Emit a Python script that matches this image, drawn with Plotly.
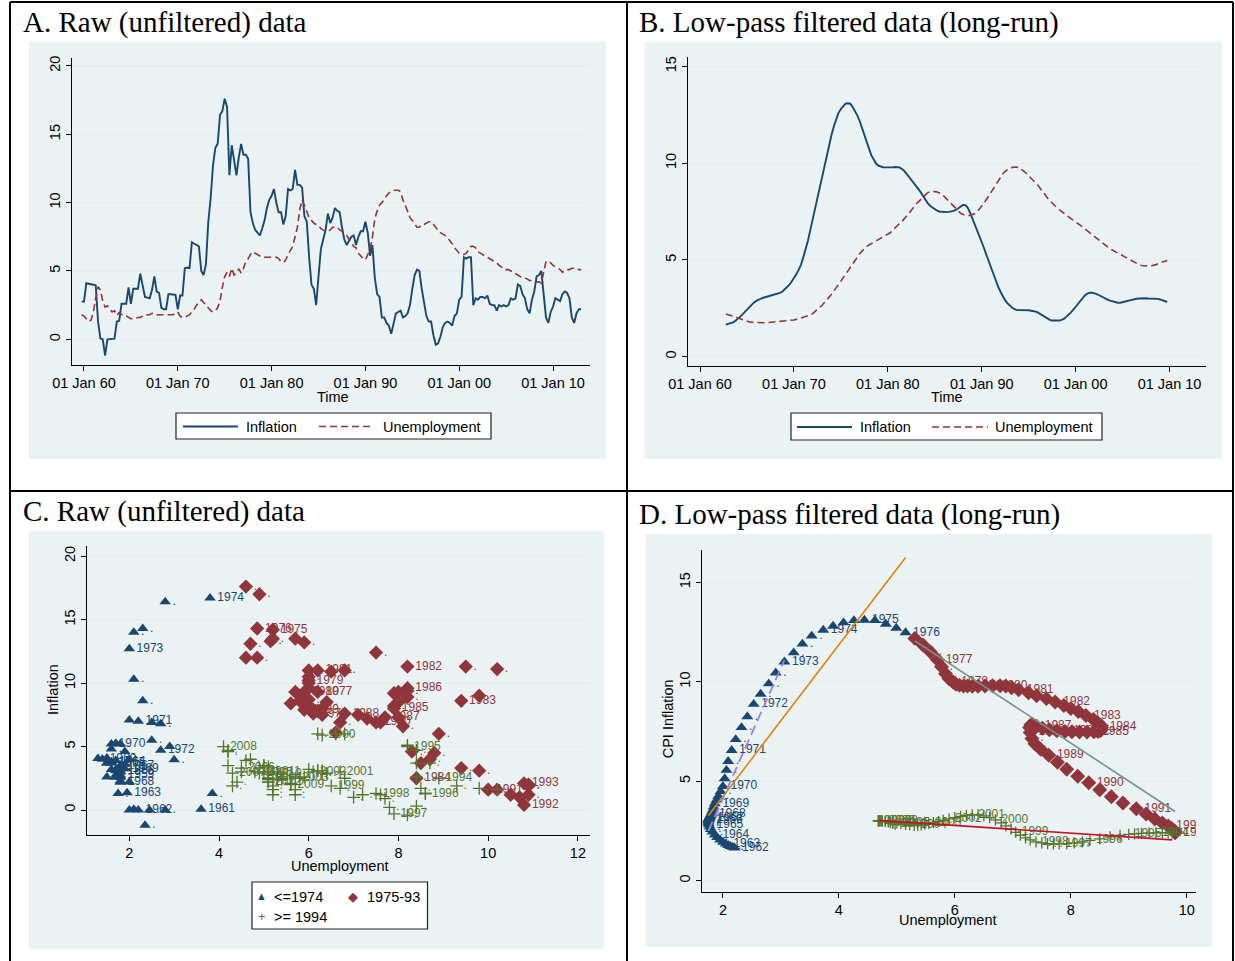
import numpy as np
import plotly.graph_objects as go

# ---------------- data ----------------
RAW_START = 1959.75            # first quarter of the raw series (1959Q4)
# Panel A / C : raw CPI inflation, quarterly
INF = [
    2.76,
    2.76, 4.1, 4.05, 4.0,      # 1960
    4.0, 3.95, 1.3, 0.05,      # 1961
    0.0, -1.2, 0.0, 0.0,       # 1962
    0.0, 0.05, 1.3, 1.35,      # 1963
    2.6, 2.6, 2.6, 3.8,        # 1964
    2.6, 3.7, 3.7, 3.7,        # 1965
    4.8, 3.9, 3.1, 3.05,       # 1966
    3.0, 3.6, 4.6, 3.5,        # 1967
    3.4, 2.3, 2.2, 2.2,        # 1968
    3.3, 3.3, 3.3, 3.25,       # 1969
    2.2, 3.2, 3.2, 5.2,        # 1970
    5.25, 5.2, 7.1, 7.0,       # 1971
    6.9, 6.8, 5.0, 4.7,        # 1972
    5.5, 8.6, 10.3, 12.7,      # 1973
    14.0, 14.3, 16.4, 16.7,    # 1974
    17.6, 17.0, 12.0, 14.2,    # 1975
    13.1, 12.0, 13.3, 14.3,    # 1976
    13.5, 13.5, 13.2, 9.3,     # 1977
    8.5, 8.0, 7.8, 7.6,        # 1978
    8.1, 8.7, 9.6, 10.2,       # 1979
    10.5, 11.0, 10.0, 9.3,     # 1980
    9.3, 8.4, 9.0, 11.0,       # 1981
    10.9, 11.0, 12.4, 11.3,    # 1982
    11.3, 11.1, 9.0, 8.6,      # 1983
    6.0, 4.0, 3.7, 2.5,        # 1984
    4.6, 6.6, 7.3, 8.0,        # 1985
    9.2, 8.5, 8.9, 9.6,        # 1986
    9.4, 9.3, 8.2, 7.3,        # 1987
    6.9, 7.2, 7.5, 7.6,        # 1988
    6.9, 7.5, 7.9, 7.9,        # 1989
    8.6, 7.8, 6.1, 6.9,        # 1990
    4.5, 3.3, 3.1, 1.6,        # 1991
    1.6, 1.2, 1.0, 0.4,        # 1992
    1.2, 1.9, 2.0, 2.1,        # 1993
    1.6, 1.7, 1.9, 2.5,        # 1994
    3.7, 4.7, 5.1, 5.0,        # 1995
    3.7, 2.6, 1.7, 1.3,        # 1996
    1.3, 0.3, -0.4, -0.3,      # 1997
    0.2, 0.9, 1.2, 1.3,        # 1998
    1.2, 1.0, 1.7, 1.9,        # 1999
    2.9, 3.1, 6.0, 5.9,        # 2000
    6.0, 6.0, 2.5, 3.0,        # 2001
    2.9, 3.1, 3.1, 3.0,        # 2002
    3.2, 2.6, 2.5, 2.5,        # 2003
    2.1, 2.5, 2.4, 2.5,        # 2004
    2.4, 2.5, 3.0, 2.9,        # 2005
    3.0, 4.0, 3.9, 3.3,        # 2006
    3.0, 2.2, 1.9, 2.9,        # 2007
    3.5, 4.6, 4.7, 5.0,        # 2008
    3.5, 1.6, 1.2, 2.0,        # 2009
    2.4, 3.0, 2.9, 2.8,        # 2010
    3.3, 3.5, 3.4, 3.0,        # 2011
    1.6, 1.2, 1.9, 2.2,        # 2012
    2.2,
]
# raw unemployment rate, quarterly
UNE = [
    1.8,
    1.7, 1.5, 1.3, 1.4,        # 1960
    2.0, 3.0, 3.85, 3.6,       # 1961
    2.8, 2.35, 2.45, 2.2,      # 1962
    2.0, 2.1, 1.75, 1.95,      # 1963
    1.8, 1.7, 1.7, 1.6,        # 1964
    1.5, 1.5, 1.5, 1.6,        # 1965
    1.6, 1.7, 1.7, 1.8,        # 1966
    1.8, 1.9, 1.9, 1.8,        # 1967
    1.8, 1.8, 1.8, 1.8,        # 1968
    1.8, 1.8, 1.8, 1.9,        # 1969
    2.0, 1.7, 1.6, 1.6,        # 1970
    1.7, 1.8, 2.0, 2.2,        # 1971
    2.5, 2.7, 2.9, 2.7,        # 1972
    2.5, 2.3, 2.1, 2.0,        # 1973
    2.1, 2.3, 2.8, 3.8,        # 1974
    4.6, 4.9, 4.6, 5.2,        # 1975
    4.7, 4.85, 5.15, 4.85,     # 1976
    5.2, 5.7, 5.9, 6.2,        # 1977
    6.4, 6.3, 6.2, 6.1,        # 1978
    6.0, 6.0, 6.0, 6.0,        # 1979
    6.0, 6.0, 6.0, 5.9,        # 1980
    5.7, 5.6, 5.8, 6.2,        # 1981
    6.5, 6.8, 7.5, 8.2,        # 1982
    9.5, 10.2, 9.8, 9.4,       # 1983
    8.9, 8.7, 8.5, 8.4,        # 1984
    8.3, 8.1, 8.0, 7.9,        # 1985
    7.9, 8.0, 8.2, 8.2,        # 1986
    8.2, 8.0, 7.9, 7.7,        # 1987
    7.6, 7.3, 7.1, 6.8,        # 1988
    6.7, 6.3, 6.1, 5.9,        # 1989
    5.8, 6.2, 6.6, 7.5,        # 1990
    8.8, 9.4, 9.8, 10.0,       # 1991
    10.2, 10.5, 10.7, 10.8,    # 1992
    10.9, 10.9, 10.9, 10.8,    # 1993
    10.2, 9.8, 9.3, 8.9,       # 1994
    8.7, 8.4, 8.2, 8.2,        # 1995
    8.4, 8.4, 8.5, 8.6,        # 1996
    8.6, 8.4, 8.2, 7.9,        # 1997
    7.8, 7.7, 7.6, 7.5,        # 1998
    7.2, 7.0, 6.7, 6.5,        # 1999
    6.3, 6.2, 6.2, 6.3,        # 2000
    6.6, 6.8, 6.8, 6.7,        # 2001
    6.4, 6.3, 6.2, 6.1,        # 2002
    6.0, 5.9, 5.8, 5.7,        # 2003
    5.6, 5.4, 5.3, 5.1,        # 2004
    5.1, 5.1, 5.0, 4.9,        # 2005
    4.8, 4.7, 4.6, 4.5,        # 2006
    4.5, 4.4, 4.3, 4.3,        # 2007
    4.2, 4.2, 4.2, 4.1,        # 2008
    5.0, 5.7, 5.7, 5.6,        # 2009
    5.4, 5.3, 5.2, 5.1,        # 2010
    4.9, 5.0, 5.1, 5.1,        # 2011
    5.2, 5.2, 5.2, 5.1,        # 2012
    5.1,
]

LP_START = 1962.75             # first quarter of the low-pass series (1962Q4)
# Panel B / D : low-pass filtered inflation
ILP = [
    1.65,
    1.68, 1.72, 1.77, 1.84,    # 1963
    1.93, 2.05, 2.17, 2.30,    # 1964
    2.45, 2.58, 2.70, 2.80,    # 1965
    2.88, 2.95, 3.00, 3.04,    # 1966
    3.07, 3.10, 3.13, 3.17,    # 1967
    3.20, 3.24, 3.29, 3.35,    # 1968
    3.45, 3.57, 3.70, 3.87,    # 1969
    4.05, 4.25, 4.48, 4.74,    # 1970
    5.13, 5.55, 6.00, 6.55,    # 1971
    7.10, 7.70, 8.24, 8.87,    # 1972
    9.38, 9.90, 10.45, 11.00,  # 1973
    11.46, 11.90, 12.30, 12.60,  # 1974
    12.80, 12.97, 13.08, 13.10,  # 1975
    13.08, 12.90, 12.70, 12.47,  # 1976
    12.18, 11.85, 11.50, 11.10,  # 1977
    10.75, 10.40, 10.15, 9.98,   # 1978
    9.87, 9.82, 9.79, 9.78,    # 1979
    9.77, 9.77, 9.78, 9.80,    # 1980
    9.80, 9.78, 9.70, 9.60,    # 1981
    9.45, 9.30, 9.15, 8.98,    # 1982
    8.80, 8.65, 8.50, 8.30,    # 1983
    8.10, 7.93, 7.80, 7.70,    # 1984
    7.60, 7.54, 7.50, 7.48,    # 1985
    7.47, 7.47, 7.48, 7.50,    # 1986
    7.53, 7.58, 7.66, 7.76,    # 1987
    7.84, 7.83, 7.70, 7.45,    # 1988
    7.15, 6.88, 6.60, 6.30,    # 1989
    5.95, 5.60, 5.25, 4.92,    # 1990
    4.57, 4.22, 3.90, 3.61,    # 1991
    3.35, 3.10, 2.90, 2.75,    # 1992
    2.62, 2.52, 2.45, 2.40,    # 1993
    2.40, 2.40, 2.41, 2.40,    # 1994
    2.39, 2.37, 2.35, 2.32,    # 1995
    2.27, 2.20, 2.10, 2.02,    # 1996
    1.95, 1.90, 1.86, 1.85,    # 1997
    1.84, 1.86, 1.90, 1.95,    # 1998
    2.05, 2.15, 2.28, 2.42,    # 1999
    2.58, 2.75, 2.90, 3.05,    # 2000
    3.17, 3.25, 3.30, 3.30,    # 2001
    3.28, 3.23, 3.17, 3.10,    # 2002
    3.03, 2.97, 2.92, 2.88,    # 2003
    2.84, 2.80, 2.78, 2.78,    # 2004
    2.80, 2.83, 2.87, 2.90,    # 2005
    2.94, 2.97, 2.99, 3.00,    # 2006
    3.01, 3.01, 3.01, 3.00,    # 2007
    3.00, 3.00, 3.00, 2.98,    # 2008
    2.95, 2.91, 2.87, 2.82,    # 2009
]
# low-pass filtered unemployment
ULP = [
    2.20,
    2.17, 2.13, 2.09, 2.05,    # 1963
    2.00, 1.95, 1.90, 1.86,    # 1964
    1.82, 1.79, 1.77, 1.76,    # 1965
    1.75, 1.75, 1.75, 1.75,    # 1966
    1.75, 1.76, 1.76, 1.77,    # 1967
    1.77, 1.78, 1.79, 1.80,    # 1968
    1.81, 1.83, 1.84, 1.86,    # 1969
    1.89, 1.92, 1.96, 2.00,    # 1970
    2.03, 2.06, 2.09, 2.15,    # 1971
    2.22, 2.32, 2.42, 2.53,    # 1972
    2.65, 2.79, 2.91, 3.06,    # 1973
    3.22, 3.37, 3.53, 3.73,    # 1974
    3.90, 4.08, 4.26, 4.44,    # 1975
    4.62, 4.81, 4.99, 5.15,    # 1976
    5.31, 5.45, 5.58, 5.70,    # 1977
    5.77, 5.84, 5.90, 5.97,    # 1978
    6.02, 6.08, 6.15, 6.22,    # 1979
    6.30, 6.40, 6.52, 6.65,    # 1980
    6.78, 6.88, 6.98, 7.10,    # 1981
    7.27, 7.41, 7.58, 7.73,    # 1982
    7.88, 8.00, 8.13, 8.26,    # 1983
    8.39, 8.47, 8.52, 8.53,    # 1984
    8.53, 8.51, 8.47, 8.40,    # 1985
    8.28, 8.15, 8.02, 7.90,    # 1986
    7.76, 7.63, 7.51, 7.41,    # 1987
    7.35, 7.31, 7.29, 7.30,    # 1988
    7.33, 7.38, 7.48, 7.62,    # 1989
    7.77, 7.93, 8.12, 8.31,    # 1990
    8.50, 8.70, 8.90, 9.13,    # 1991
    9.30, 9.45, 9.58, 9.68,    # 1992
    9.74, 9.78, 9.80, 9.80,    # 1993
    9.75, 9.68, 9.58, 9.47,    # 1994
    9.35, 9.22, 9.10, 9.00,    # 1995
    8.85, 8.68, 8.50, 8.33,    # 1996
    8.20, 8.06, 7.93, 7.80,    # 1997
    7.70, 7.60, 7.50, 7.40,    # 1998
    7.30, 7.22, 7.13, 7.05,    # 1999
    6.97, 6.88, 6.80, 6.70,    # 2000
    6.60, 6.50, 6.40, 6.30,    # 2001
    6.20, 6.10, 6.00, 5.90,    # 2002
    5.80, 5.72, 5.63, 5.55,    # 2003
    5.48, 5.42, 5.36, 5.30,    # 2004
    5.22, 5.15, 5.07, 5.00,    # 2005
    4.93, 4.86, 4.80, 4.75,    # 2006
    4.71, 4.69, 4.68, 4.68,    # 2007
    4.69, 4.71, 4.74, 4.80,    # 2008
    4.85, 4.89, 4.93, 4.97,    # 2009
]

TIME_TICKS = [1960, 1970, 1980, 1990, 2000, 2010]
TIME_LABELS = ["01 Jan 60", "01 Jan 70", "01 Jan 80", "01 Jan 90", "01 Jan 00", "01 Jan 10"]
GROUPS_C = ["<=1974", "1975-93", ">= 1994"]
TITLES = ["A. Raw (unfiltered) data", "B. Low-pass filtered data (long-run)",
          "C. Raw (unfiltered) data", "D. Low-pass filtered data (long-run)"]

# ---------------- styling ----------------
W, H = 1235, 961
NAVY, MAROON, GREEN = "#1a476f", "#90353b", "#55752f"
ORANGE, LAVENDER, GREYGRN, CRIMSON = "#e5820c", "#9585e0", "#74948a", "#c8102e"
BG = "#eaf2f3"
GRID = "#e4edef"
SANS = "Liberation Sans, Arial, Helvetica, sans-serif"
SERIF = "Liberation Serif, Times New Roman, serif"
TF = 14.5


def px(x):
    return x / W


def py(y):
    return 1 - y / H


t_raw = RAW_START + 0.25 * np.arange(len(INF))
t_lp = LP_START + 0.25 * np.arange(len(ILP))
inf = np.array(INF)
une = np.array(UNE)
ilp = np.array(ILP)
ulp = np.array(ULP)


def year_labels(t):
    return [str(int(v)) if abs((v % 1) - 0.75) < 1e-6 else "." for v in t]


lab_raw = np.array(year_labels(t_raw))
lab_lp = np.array(year_labels(t_lp))

fig = go.Figure()

# Panel A
fig.add_trace(go.Scatter(x=t_raw, y=inf, mode="lines", line=dict(color=NAVY, width=1.9),
                         xaxis="x", yaxis="y", showlegend=False))
fig.add_trace(go.Scatter(x=t_raw, y=une, mode="lines", line=dict(color=MAROON, width=1.6, dash="7px,4px"),
                         xaxis="x", yaxis="y", showlegend=False))
# Panel B
fig.add_trace(go.Scatter(x=t_lp, y=ilp, mode="lines", line=dict(color=NAVY, width=1.9),
                         xaxis="x2", yaxis="y2", showlegend=False))
fig.add_trace(go.Scatter(x=t_lp, y=ulp, mode="lines", line=dict(color=MAROON, width=1.6, dash="7px,4px"),
                         xaxis="x2", yaxis="y2", showlegend=False))


def marker_style(kind, size):
    if kind == "tri":
        return dict(symbol="triangle-up", size=size, color=NAVY, line=dict(width=0))
    if kind == "dia":
        return dict(symbol="diamond", size=size, color=MAROON, line=dict(width=0))
    return dict(symbol="cross-thin", size=size, color=GREEN, line=dict(width=1.3, color=GREEN))


# Panel C groups
gC = [t_raw < 1975, (t_raw >= 1975) & (t_raw < 1994), t_raw >= 1994]
for m, kind, col, sz in zip(gC, ["tri", "dia", "plus"], [NAVY, MAROON, GREEN], [10, 11, 9]):
    fig.add_trace(go.Scatter(x=une[m], y=inf[m], mode="markers+text", text=list(lab_raw[m]),
                             textposition="middle right",
                             textfont=dict(family=SANS, size=12, color=col),
                             marker=marker_style(kind, sz), xaxis="x3", yaxis="y3", showlegend=False))

# Panel D groups
gD = [t_lp < 1977, (t_lp >= 1977) & (t_lp < 1994), t_lp >= 1994]
for m, kind, col, sz in zip(gD, ["tri", "dia", "plus"], [NAVY, MAROON, GREEN], [10.5, 11.5, 8]):
    fig.add_trace(go.Scatter(x=ulp[m], y=ilp[m], mode="markers+text", text=list(lab_lp[m]),
                             textposition="middle right",
                             textfont=dict(family=SANS, size=12, color=col),
                             marker=marker_style(kind, sz), xaxis="x4", yaxis="y4", showlegend=False))


def fit(mask):
    u, p = ulp[mask], ilp[mask]
    b, a = np.polyfit(u, p, 1)
    xs = np.array([u.min(), u.max()])
    return xs, a + b * xs


for mask, col, dash, w in [(gD[0], ORANGE, "solid", 1.6), (t_lp < 1974, LAVENDER, "10px,5px", 1.8),
                           (gD[1], GREYGRN, "solid", 1.6), (gD[2], CRIMSON, "solid", 1.6)]:
    xs, ys = fit(mask)
    fig.add_trace(go.Scatter(x=xs, y=ys, mode="lines", line=dict(color=col, width=w, dash=dash),
                             xaxis="x4", yaxis="y4", showlegend=False))

# ---------------- axes ----------------
base = dict(showline=True, linecolor="#000", linewidth=1, ticks="outside", ticklen=5, tickwidth=1,
            tickcolor="#000", tickfont=dict(family=SANS, size=TF, color="#000"), zeroline=False,
            fixedrange=True, automargin=False)
xbase = dict(base, showgrid=False)
ybase = dict(base, showgrid=True, gridcolor=GRID, gridwidth=1.3, tickangle=-90)

layout_axes = dict(
    xaxis=dict(xbase, domain=[px(71.7), px(590)], range=[1958.69, 2013.94], tickvals=TIME_TICKS,
               ticktext=TIME_LABELS, anchor="y"),
    yaxis=dict(ybase, domain=[py(365), py(58)], range=[-1.88, 20.58], tickvals=[0, 5, 10, 15, 20], anchor="x"),
    xaxis2=dict(xbase, domain=[px(687.7), px(1205.8)], range=[1958.69, 2013.86], tickvals=TIME_TICKS,
                ticktext=TIME_LABELS, anchor="y2"),
    yaxis2=dict(ybase, domain=[py(366), py(57)], range=[-0.49, 15.49], tickvals=[0, 5, 10, 15], anchor="x2"),
    xaxis3=dict(xbase, domain=[px(86.7), px(590)], range=[1.05, 12.27], tickvals=[2, 4, 6, 8, 10, 12], anchor="y3"),
    yaxis3=dict(ybase, domain=[py(835), py(546)], range=[-1.97, 20.8], tickvals=[0, 5, 10, 15, 20], anchor="x3"),
    xaxis4=dict(xbase, domain=[px(701.5), px(1196)], range=[1.63, 10.16], tickvals=[2, 4, 6, 8, 10], anchor="y4"),
    yaxis4=dict(ybase, domain=[py(891.5), py(549.5)], range=[-0.55, 16.65], tickvals=[0, 5, 10, 15], anchor="x4"),
)

# ---------------- shapes ----------------
shapes = []


def rect(x0, y0, x1, y1, fill=None, lc=None, lw=0, layer="below"):
    shapes.append(dict(type="rect", xref="paper", yref="paper", x0=px(x0), x1=px(x1), y0=py(y1), y1=py(y0),
                       fillcolor=fill, line=dict(color=lc or "rgba(0,0,0,0)", width=lw), layer=layer))


def seg(x0, y0, x1, y1, color="#000", width=2, dash="solid", layer="above"):
    shapes.append(dict(type="line", xref="paper", yref="paper", x0=px(x0), x1=px(x1), y0=py(y0), y1=py(y1),
                       line=dict(color=color, width=width, dash=dash), layer=layer))


# panel backgrounds
rect(29, 41.5, 606, 459, fill=BG)
rect(644.5, 41.5, 1222, 459, fill=BG)
rect(29, 531, 604, 949, fill=BG)
rect(645.5, 534, 1212, 947, fill=BG)

# frame / dividers
seg(10, 2, 1233, 2)
seg(10, 2, 10, 961)
seg(1233, 2, 1233, 961)
seg(627, 2, 627, 961)
seg(10, 491, 1233, 491)

# legends A and B
rect(176, 413, 491, 439, fill="#fff", lc="#222", lw=1.2, layer="above")
seg(183, 426.5, 238, 426.5, color=NAVY, width=1.9)
seg(319, 426.5, 373, 426.5, color=MAROON, width=1.6, dash="7px,4px")
rect(791, 413, 1102, 440, fill="#fff", lc="#222", lw=1.2, layer="above")
seg(797, 427, 852, 427, color=NAVY, width=1.9)
seg(932, 427, 988, 427, color=MAROON, width=1.6, dash="7px,4px")
# legend C
rect(252, 882, 427.5, 929, fill="#fff", lc="#222", lw=1.2, layer="above")

# ---------------- annotations ----------------
anns = []


def ann(text, x, y, size=TF, family=SANS, color="#000", xanchor="center", yanchor="middle", angle=0):
    anns.append(dict(text=text, x=px(x), y=py(y), xref="paper", yref="paper", showarrow=False,
                     font=dict(family=family, size=size, color=color), xanchor=xanchor, yanchor=yanchor,
                     textangle=angle, borderpad=0))


ann(TITLES[0], 22, 22, size=29, family=SERIF, xanchor="left")
ann(TITLES[1], 638, 22, size=29, family=SERIF, xanchor="left")
ann(TITLES[2], 22, 511, size=29, family=SERIF, xanchor="left")
ann(TITLES[3], 638, 514, size=29, family=SERIF, xanchor="left")

ann("Time", 333, 397)
ann("Time", 946.5, 397)
ann("Unemployment", 339.6, 866)
ann("Inflation", 53, 690, angle=-90)
ann("Unemployment", 948, 920)
ann("CPI Inflation", 668.3, 719, angle=-90)

ann("Inflation", 245, 426.5, xanchor="left")
ann("Unemployment", 382, 426.5, xanchor="left")
ann("Inflation", 859, 427, xanchor="left")
ann("Unemployment", 994, 427, xanchor="left")

ann("\u25B2", 261.5, 896, size=11, color=NAVY)
ann(GROUPS_C[0], 272.5, 896.5, xanchor="left")
ann("\u25C6", 353, 896, size=13, color=MAROON)
ann(GROUPS_C[1], 365.5, 896.5, xanchor="left")
ann("+", 261.5, 916, size=13, color=GREEN)
ann(GROUPS_C[2], 272.5, 916.5, xanchor="left")

fig.update_layout(
    width=W, height=H, autosize=False,
    margin=dict(l=0, r=0, t=0, b=0, pad=0, autoexpand=False),
    paper_bgcolor="#ffffff", plot_bgcolor="#ffffff",
    showlegend=False, shapes=shapes, annotations=anns,
    font=dict(family=SANS, size=TF, color="#000"),
    **layout_axes,
)

fig.write_html("out.html", config={"displayModeBar": False, "staticPlot": True},
               post_script="document.body.style.margin='0';document.body.style.overflow='hidden';")
